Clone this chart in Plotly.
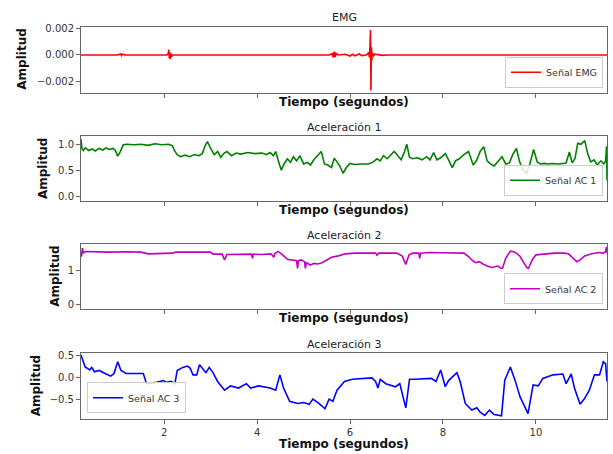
import plotly.graph_objects as go

# ---------------- data ----------------
emg_t = [0.21, 1.00, 1.06, 1.08, 1.10, 1.16, 2.06, 2.09, 2.10, 2.11, 2.12, 2.13, 2.15, 2.17, 2.20,
         5.55, 5.62, 5.64, 5.66, 5.68, 5.70, 5.74, 5.90, 6.00, 6.05, 6.10, 6.20, 6.25, 6.35,
         6.40, 6.42, 6.43, 6.44, 6.45, 6.46, 6.47, 6.48, 6.50, 6.53, 6.60, 6.70, 6.80, 11.53]
emg_v = [0.0, 0.0, 0.00008, -0.00005, 0.00006, 0.0, 0.0, 0.00012, 0.00040, -0.00025, 0.00020, -0.00030, 0.00010, -0.00008, 0.0,
         0.0, 0.00010, -0.00020, 0.00025, -0.00015, 0.00012, 0.0, 0.00005, -0.00008, 0.00005, -0.00006, 0.00008, -0.00005, 0.0,
         0.00015, -0.00020, 0.00050, 0.00190, -0.00270, 0.00060, -0.00040, 0.00020, -0.00010, 0.00006, 0.00004, -0.00003, 0.0, 0.0]

ac1_t = [0.21, 0.23, 0.26, 0.30, 0.38, 0.45, 0.52, 0.60, 0.68, 0.75,
         0.82, 0.90, 0.95, 1.00, 1.05, 1.12, 1.20, 1.35, 1.50, 1.65,
         1.80, 1.95, 2.10, 2.18, 2.22, 2.28, 2.35, 2.45, 2.55, 2.65,
         2.75, 2.82, 2.88, 2.93, 3.00, 3.08, 3.15, 3.22, 3.28, 3.35,
         3.45, 3.55, 3.65, 3.80, 3.95, 4.10, 4.20, 4.28, 4.35, 4.40,
         4.45, 4.52, 4.58, 4.65, 4.72, 4.78, 4.85, 4.92, 5.00, 5.08,
         5.15, 5.22, 5.30, 5.38, 5.45, 5.52, 5.60, 5.66, 5.72, 5.78,
         5.85, 5.92, 6.00, 6.10, 6.25, 6.40, 6.50, 6.58, 6.65, 6.72,
         6.80, 6.88, 6.95, 7.03, 7.10, 7.17, 7.22, 7.28, 7.35, 7.45,
         7.55, 7.65, 7.72, 7.80, 7.87, 7.95, 8.05, 8.12, 8.20, 8.27,
         8.35, 8.45, 8.55, 8.65, 8.72, 8.80, 8.88, 8.95, 9.02, 9.10,
         9.18, 9.27, 9.35, 9.43, 9.50, 9.58, 9.65, 9.72, 9.80, 9.87,
         9.95, 10.03, 10.10, 10.18, 10.25, 10.35, 10.50, 10.65, 10.72, 10.78,
         10.84, 10.90, 10.97, 11.05, 11.12, 11.18, 11.25, 11.32, 11.40, 11.46,
         11.50, 11.52, 11.53]
ac1_v = [1.10, 0.92, 0.88, 0.93, 0.88, 0.91, 0.87, 0.92, 0.89, 0.93,
         0.90, 0.92, 0.88, 0.77, 0.85, 0.99, 1.00, 0.99, 1.00, 0.98,
         1.01, 0.99, 1.00, 0.97, 0.88, 0.80, 0.76, 0.79, 0.76, 0.80,
         0.78, 0.82, 0.97, 1.05, 0.92, 0.80, 0.86, 0.75, 0.82, 0.86,
         0.78, 0.83, 0.81, 0.84, 0.82, 0.83, 0.80, 0.84, 0.78, 0.86,
         0.70, 0.50, 0.62, 0.72, 0.65, 0.76, 0.68, 0.78, 0.62, 0.65,
         0.60, 0.70, 0.78, 0.86, 0.62, 0.60, 0.55, 0.73, 0.66, 0.58,
         0.44, 0.55, 0.63, 0.61, 0.62, 0.62, 0.66, 0.72, 0.68, 0.78,
         0.72, 0.80, 0.86, 0.78, 0.70, 0.85, 1.00, 0.75, 0.72, 0.74,
         0.70, 0.76, 0.70, 0.84, 0.70, 0.74, 0.82, 0.70, 0.55, 0.68,
         0.72, 0.80, 0.86, 0.60, 0.68, 0.86, 0.95, 0.68, 0.62, 0.58,
         0.66, 0.76, 0.62, 0.64, 0.80, 0.92, 0.66, 0.50, 0.44, 0.62,
         0.90, 0.66, 0.62, 0.63, 0.62, 0.63, 0.62, 0.64, 0.85, 0.64,
         0.72, 1.02, 1.00, 1.07, 0.80, 0.66, 0.70, 0.60, 0.68, 0.62,
         0.68, 0.96, 0.30]

ac2_t = [0.21, 0.22, 0.24, 0.26, 0.30, 0.50, 0.80, 1.20, 1.50, 1.66,
         1.90, 2.17, 2.25, 2.50, 2.80, 3.00, 3.05, 3.25, 3.30, 3.35,
         3.60, 3.88, 3.90, 3.92, 4.10, 4.30, 4.36, 4.38, 4.45, 4.55,
         4.65, 4.75, 4.85, 4.87, 4.89, 4.95, 5.02, 5.04, 5.06, 5.15,
         5.22, 5.30, 5.40, 5.50, 5.60, 5.75, 5.90, 6.10, 6.40, 6.55,
         6.58, 6.62, 6.80, 7.00, 7.12, 7.20, 7.27, 7.35, 7.48, 7.50,
         7.52, 7.70, 8.00, 8.30, 8.45, 8.55, 8.62, 8.70, 8.78, 8.86,
         8.95, 9.05, 9.12, 9.18, 9.24, 9.28, 9.35, 9.45, 9.52, 9.60,
         9.66, 9.74, 9.80, 9.84, 9.92, 10.00, 10.20, 10.40, 10.60, 10.70,
         10.80, 10.88, 10.95, 11.05, 11.20, 11.35, 11.45, 11.50, 11.52, 11.53]
ac2_v = [1.55, 1.40, 1.65, 1.50, 1.55, 1.54, 1.53, 1.54, 1.53, 1.48,
         1.48, 1.50, 1.53, 1.54, 1.53, 1.53, 1.47, 1.47, 1.30, 1.46,
         1.47, 1.47, 1.35, 1.47, 1.46, 1.48, 1.38, 1.48, 1.55, 1.45,
         1.32, 1.30, 1.28, 1.05, 1.28, 1.30, 1.25, 1.05, 1.22, 1.15,
         1.20, 1.18, 1.22, 1.30, 1.38, 1.42, 1.48, 1.50, 1.51, 1.50,
         1.44, 1.50, 1.50, 1.50, 1.42, 1.17, 1.45, 1.50, 1.50, 1.35,
         1.50, 1.52, 1.51, 1.51, 1.50, 1.40, 1.30, 1.22, 1.25, 1.18,
         1.12, 1.08, 1.10, 1.12, 1.06, 1.05, 1.35, 1.56, 1.54, 1.48,
         1.40, 1.22, 1.08, 1.05, 1.30, 1.45, 1.48, 1.50, 1.50, 1.48,
         1.35, 1.25, 1.30, 1.42, 1.48, 1.52, 1.50, 1.55, 1.68, 1.50]

ac3_t = [0.21, 0.30, 0.40, 0.44, 0.50, 0.60, 0.73, 0.85, 0.92, 1.00,
         1.07, 1.18, 1.40, 1.55, 1.62, 1.84, 1.98, 2.05, 2.15, 2.23,
         2.28, 2.40, 2.50, 2.56, 2.62, 2.70, 2.76, 2.90, 2.97, 3.05,
         3.15, 3.30, 3.43, 3.60, 3.77, 3.86, 4.03, 4.28, 4.40, 4.49,
         4.57, 4.70, 4.87, 5.00, 5.12, 5.20, 5.33, 5.46, 5.55, 5.63,
         5.72, 5.88, 6.05, 6.47, 6.55, 6.60, 6.65, 6.77, 6.98, 7.07,
         7.20, 7.28, 7.40, 7.75, 7.85, 7.95, 8.05, 8.12, 8.30, 8.37,
         8.48, 8.62, 8.73, 8.80, 8.90, 9.00, 9.10, 9.26, 9.33, 9.45,
         9.55, 9.66, 9.83, 9.94, 10.05, 10.15, 10.37, 10.58, 10.65, 10.76,
         10.83, 10.95, 11.04, 11.15, 11.26, 11.37, 11.45, 11.50, 11.53]
ac3_v = [0.50, 0.23, 0.16, 0.22, 0.12, 0.15, 0.08, 0.02, 0.08, 0.35,
         0.15, 0.08, 0.08, 0.08, -0.15, -0.12, -0.08, -0.12, -0.10, -0.15,
         0.15, 0.22, 0.25, 0.20, 0.05, 0.05, 0.28, 0.10, 0.22, 0.10,
         -0.10, -0.30, -0.20, -0.25, -0.15, -0.25, -0.20, -0.25, -0.30, 0.05,
         -0.25, -0.55, -0.60, -0.58, -0.62, -0.50, -0.60, -0.72, -0.50, -0.55,
         -0.30, -0.10, -0.05, -0.02, -0.10, -0.25, -0.05, -0.15, -0.22, -0.15,
         -0.70, -0.05, -0.05, -0.03, -0.10, 0.16, -0.22, -0.08, 0.10, -0.10,
         -0.60, -0.75, -0.70, -0.80, -0.87, -0.75, -0.85, -0.88, -0.07, 0.23,
         -0.07, -0.45, -0.83, -0.18, -0.20, -0.03, 0.05, 0.07, -0.15, 0.07,
         -0.25, -0.62, -0.50, -0.30, 0.05, 0.05, 0.35, 0.30, -0.10]

titles = ["EMG", "Aceleración 1", "Aceleración 2", "Aceleración 3"]
names = ["Señal EMG", "Señal AC 1", "Señal AC 2", "Señal AC 3"]
x_ticks = [2, 4, 6, 8, 10]
y_ticks = [[-0.002, 0.0, 0.002], [0.0, 0.5, 1.0], [0, 1], [-0.5, 0.0, 0.5]]
y_tick_text = [["−0.002", "0.000", "0.002"], ["0.0", "0.5", "1.0"], ["0", "1"], ["−0.5", "0.0", "0.5"]]

# ---------------- layout helpers ----------------
W, H = 613, 454
L, R = 81, 6
FONT = "DejaVu Sans"
panels_px = [(26.7, 92.7), (136.0, 200.7), (244.3, 309.3), (353.3, 419.3)]
y_ranges = [[-0.00287, 0.00215], [-0.09, 1.16], [-0.15, 1.76], [-0.96, 0.54]]
colors = ["#ff0000", "#008000", "#bf00bf", "#0000ff"]
ylabel_x_px = [22, 43.7, 55, 36]

def py(px):
    return 1 - px / H

def pxx(px):
    return (px - L) / (W - L - R)

fig = go.Figure()
series = [(emg_t, emg_v), (ac1_t, ac1_v), (ac2_t, ac2_v), (ac3_t, ac3_v)]
legend_ids = ["legend", "legend2", "legend3", "legend4"]
for i, (t, v) in enumerate(series):
    sfx = "" if i == 0 else str(i + 1)
    fig.add_trace(go.Scatter(x=t, y=v, mode="lines", name=names[i],
                             line=dict(color=colors[i], width=1.6),
                             xaxis="x" + sfx, yaxis="y" + sfx,
                             legend=legend_ids[i], showlegend=True))

layout = dict(width=W, height=H, margin=dict(l=L, r=R, t=0, b=0),
              paper_bgcolor="white", plot_bgcolor="white",
              font=dict(family=FONT, size=10, color="#222"))
annotations = []
for i in range(4):
    sfx = "" if i == 0 else str(i + 1)
    top, bot = panels_px[i]
    layout["xaxis" + sfx] = dict(range=[0.21, 11.53], anchor="y" + sfx, domain=[0, 1],
                                 showline=True, mirror=True, linecolor="#666", linewidth=1,
                                 ticks="outside", ticklen=4, tickcolor="#666",
                                 tickvals=x_ticks, showgrid=False, zeroline=False,
                                 showticklabels=(i == 3), tickfont=dict(size=10, color="#333"),
                                 automargin=False)
    layout["yaxis" + sfx] = dict(range=y_ranges[i], anchor="x" + sfx, domain=[py(bot), py(top)],
                                 showline=True, mirror=True, linecolor="#666", linewidth=1,
                                 ticks="outside", ticklen=4, tickcolor="#666",
                                 tickvals=y_ticks[i], ticktext=y_tick_text[i],
                                 showgrid=False, zeroline=False,
                                 tickfont=dict(size=10, color="#333"), automargin=False)
    annotations.append(dict(text=titles[i], x=0.5, y=py(top - 9), xref="paper", yref="paper",
                            xanchor="center", yanchor="middle", showarrow=False,
                            font=dict(size=11, color="#222")))
    xl_y = 444 if i == 3 else bot + 9
    annotations.append(dict(text="<b>Tiempo (segundos)</b>", x=0.5, y=py(xl_y), xref="paper", yref="paper",
                            xanchor="center", yanchor="middle", showarrow=False,
                            font=dict(size=12, color="#111")))
    annotations.append(dict(text="<b>Amplitud</b>", x=pxx(ylabel_x_px[i]), y=py((top + bot) / 2),
                            xref="paper", yref="paper", xanchor="center", yanchor="middle",
                            textangle=-90, showarrow=False, font=dict(size=12, color="#111")))

legend_style = dict(bgcolor="rgba(255,255,255,0.85)", bordercolor="#cccccc", borderwidth=1,
                    font=dict(size=9.5, color="#333"), itemwidth=30)
for i, lid in enumerate(legend_ids):
    top, bot = panels_px[i]
    if i == 3:
        pos = dict(x=pxx(87), xanchor="left", y=py(bot - 6), yanchor="bottom")
    else:
        pos = dict(x=pxx(603), xanchor="right", y=py(bot - 5), yanchor="bottom")
    layout[lid] = dict(**legend_style, **pos)

layout["annotations"] = annotations
fig.update_layout(**layout)
fig.write_html("out.html", config={"displayModeBar": False},
               post_script="document.body.style.margin='0';document.body.style.overflow='hidden';")
